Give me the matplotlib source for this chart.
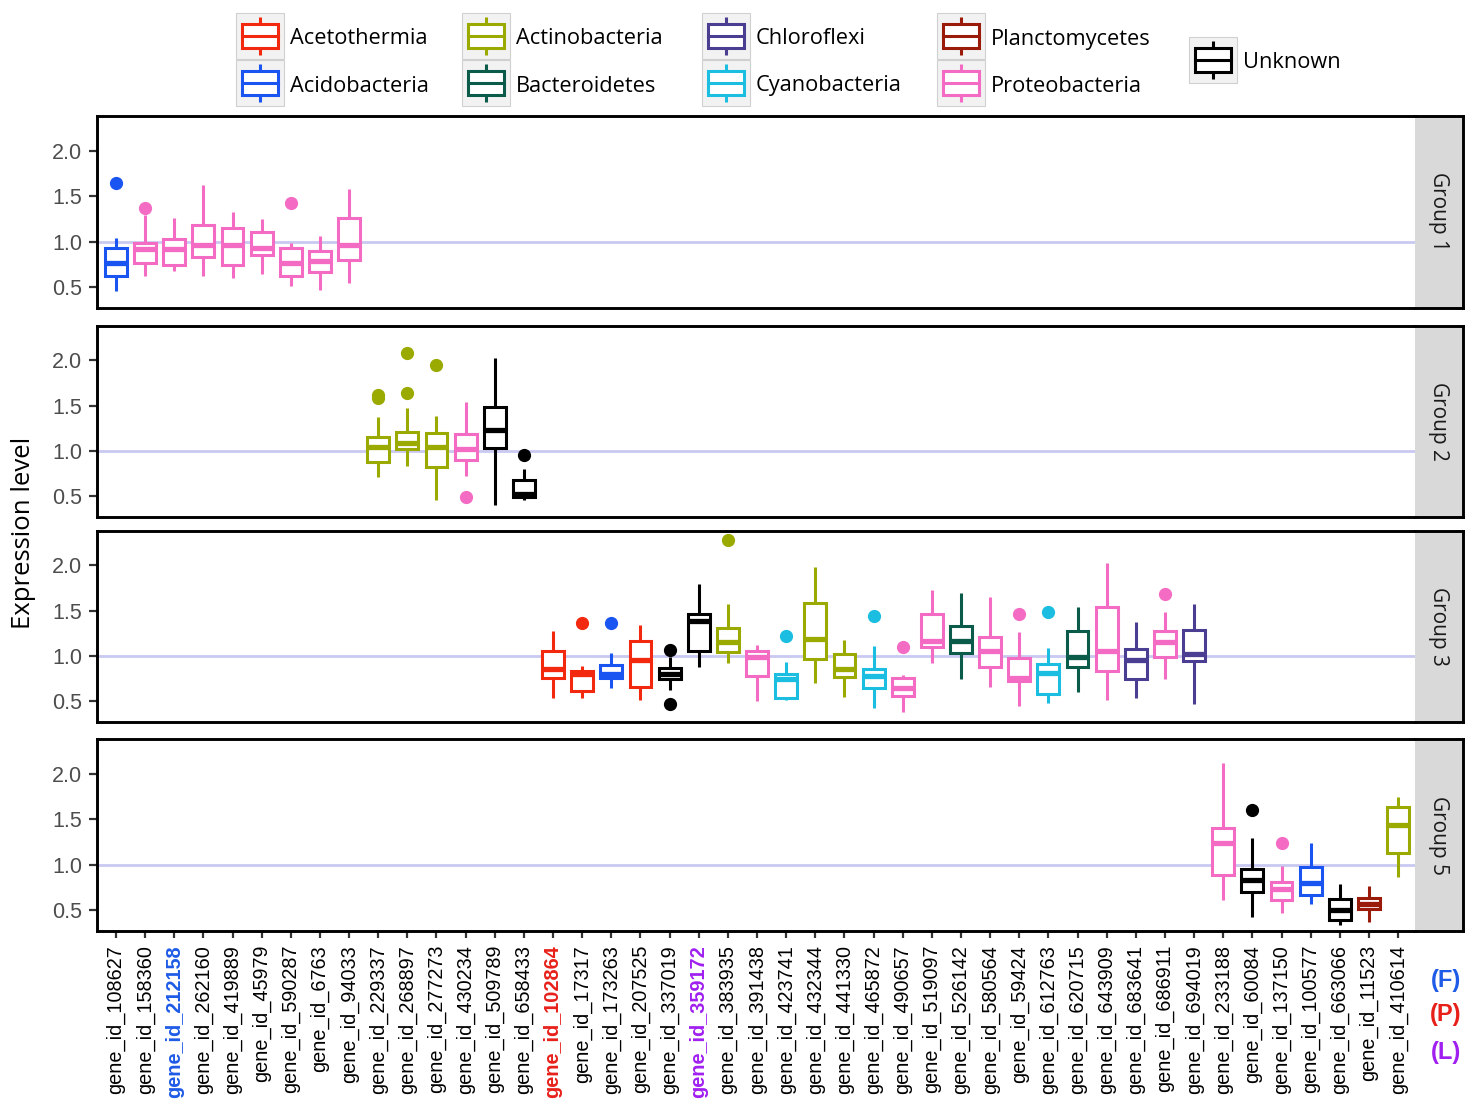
import matplotlib
matplotlib.use("Agg")
import matplotlib.pyplot as plt
from matplotlib.patches import Rectangle

# ---------------------------------------------------------------- data
genes = [
    "gene_id_108627", "gene_id_158360", "gene_id_212158", "gene_id_262160",
    "gene_id_419889", "gene_id_45979", "gene_id_590287", "gene_id_6763",
    "gene_id_94033", "gene_id_229337", "gene_id_268897", "gene_id_277273",
    "gene_id_430234", "gene_id_509789", "gene_id_658433", "gene_id_102864",
    "gene_id_17317", "gene_id_173263", "gene_id_207525", "gene_id_337019",
    "gene_id_359172", "gene_id_383935", "gene_id_391438", "gene_id_423741",
    "gene_id_432344", "gene_id_441330", "gene_id_465872", "gene_id_490657",
    "gene_id_519097", "gene_id_526142", "gene_id_580564", "gene_id_59424",
    "gene_id_612763", "gene_id_620715", "gene_id_643909", "gene_id_683641",
    "gene_id_686911", "gene_id_694019", "gene_id_233188", "gene_id_60084",
    "gene_id_137150", "gene_id_100577", "gene_id_663066", "gene_id_11523",
    "gene_id_410614",
]

phylum = [
    "Acidobacteria", "Proteobacteria", "Proteobacteria", "Proteobacteria",
    "Proteobacteria", "Proteobacteria", "Proteobacteria", "Proteobacteria",
    "Proteobacteria", "Actinobacteria", "Actinobacteria", "Actinobacteria",
    "Proteobacteria", "Unknown", "Unknown", "Acetothermia",
    "Acetothermia", "Acidobacteria", "Acetothermia", "Unknown",
    "Unknown", "Actinobacteria", "Proteobacteria", "Cyanobacteria",
    "Actinobacteria", "Actinobacteria", "Cyanobacteria", "Proteobacteria",
    "Proteobacteria", "Bacteroidetes", "Proteobacteria", "Proteobacteria",
    "Cyanobacteria", "Bacteroidetes", "Proteobacteria", "Chloroflexi",
    "Proteobacteria", "Chloroflexi", "Proteobacteria", "Unknown",
    "Proteobacteria", "Acidobacteria", "Unknown", "Planctomycetes",
    "Actinobacteria",
]

group = [1] * 9 + [2] * 6 + [3] * 23 + [5] * 7

whislo = [0.46, 0.62, 0.68, 0.62, 0.60, 0.64, 0.51, 0.47, 0.55,
          0.71, 0.83, 0.46, 0.72, 0.40, 0.46,
          0.54, 0.54, 0.65, 0.51, 0.62, 0.88, 0.92, 0.50, 0.51, 0.70, 0.55,
          0.42, 0.38, 0.92, 0.75, 0.66, 0.45, 0.48, 0.60, 0.51, 0.54, 0.75, 0.47,
          0.61, 0.42, 0.47, 0.57, 0.34, 0.37, 0.86]
q1 = [0.62, 0.76, 0.74, 0.83, 0.74, 0.85, 0.62, 0.67, 0.80,
      0.88, 1.02, 0.82, 0.90, 1.03, 0.49,
      0.76, 0.61, 0.76, 0.66, 0.75, 1.05, 1.04, 0.78, 0.54, 0.97, 0.77,
      0.65, 0.56, 1.10, 1.03, 0.88, 0.72, 0.58, 0.88, 0.83, 0.74, 0.99, 0.94,
      0.89, 0.70, 0.61, 0.67, 0.39, 0.51, 1.13]
median = [0.76, 0.92, 0.92, 0.96, 0.96, 0.93, 0.76, 0.79, 0.96,
          1.04, 1.09, 1.04, 1.02, 1.23, 0.52,
          0.85, 0.80, 0.80, 0.96, 0.80, 1.39, 1.15, 0.99, 0.75, 1.19, 0.86,
          0.78, 0.65, 1.16, 1.16, 1.05, 0.76, 0.81, 0.99, 1.05, 0.96, 1.15, 1.02,
          1.24, 0.83, 0.73, 0.80, 0.50, 0.57, 1.44]
q3 = [0.93, 0.98, 1.03, 1.18, 1.15, 1.10, 0.93, 0.90, 1.26,
      1.15, 1.21, 1.20, 1.19, 1.49, 0.68,
      1.05, 0.83, 0.90, 1.17, 0.87, 1.46, 1.31, 1.05, 0.80, 1.59, 1.02,
      0.86, 0.76, 1.46, 1.33, 1.21, 0.98, 0.91, 1.27, 1.54, 1.08, 1.27, 1.29,
      1.40, 0.95, 0.81, 0.97, 0.62, 0.63, 1.63]
whishi = [1.04, 1.29, 1.26, 1.62, 1.32, 1.25, 0.98, 1.06, 1.58,
          1.37, 1.47, 1.39, 1.54, 2.03, 0.80,
          1.27, 0.89, 1.03, 1.34, 0.99, 1.80, 1.57, 1.12, 0.93, 1.98, 1.18,
          1.11, 0.79, 1.73, 1.69, 1.65, 1.26, 1.09, 1.54, 2.03, 1.37, 1.49, 1.57,
          2.12, 1.29, 0.98, 1.24, 0.79, 0.77, 1.74]
outliers = [[1.64], [1.37], [], [], [], [], [1.42], [], [],
            [1.62, 1.58], [1.64, 2.08], [1.95], [0.49], [], [0.95],
            [], [1.36], [1.36], [], [1.07, 0.47], [], [2.28], [], [1.22], [], [],
            [1.44], [1.10], [], [], [], [1.46], [1.49], [], [], [], [1.68], [],
            [], [1.60], [1.24], [], [], [], []]

phyla = ["Acetothermia", "Acidobacteria", "Actinobacteria", "Bacteroidetes",
         "Chloroflexi", "Cyanobacteria", "Planctomycetes", "Proteobacteria",
         "Unknown"]
phylum_colors = ["#F2290F", "#1A55F2", "#9BAA00", "#0B5B4B",
                 "#4A3E92", "#1BBEE0", "#9B1B0A", "#F46BC4", "#000000"]

groups = [1, 2, 3, 5]
group_labels = ["Group 1", "Group 2", "Group 3", "Group 5"]

# highlighted gene ids and their marker letters
highlight_genes = ["gene_id_212158", "gene_id_102864", "gene_id_359172"]
highlight_tags = ["(F)", "(P)", "(L)"]
highlight_colors = ["#1E5BE6", "#E8201A", "#A020F0"]

y_ticks = [0.5, 1.0, 1.5, 2.0]

# ---------------------------------------------------------------- layout
W, H = 1468, 1100
fig = plt.figure(figsize=(W / 100, H / 100), dpi=100)
fig.patch.set_facecolor("white")

color_of = dict(zip(phyla, phylum_colors))
tick_font = ["Liberation Sans", "DejaVu Sans"]
text_font = ["Open Sans", "DejaVu Sans"]


def px_axes(x0, y0, x1, y1, **kw):
    return fig.add_axes([x0 / W, 1 - y1 / H, (x1 - x0) / W, (y1 - y0) / H], **kw)


panel_rows = [(116, 308), (326, 517), (531, 722), (739, 931)]
plot_x0, plot_x1, strip_x1 = 97, 1415, 1463
frame_lw = 2.1

axes = []
for k, (g, glabel) in enumerate(zip(groups, group_labels)):
    y0, y1 = panel_rows[k]
    ax = px_axes(plot_x0, y0, plot_x1, y1)
    axes.append(ax)
    ax.set_xlim(-0.65, len(genes) - 1 + 0.58)
    ax.set_ylim(0.27, 2.38)
    ax.axhline(1.0, color="#C9C9F2", lw=2.0, zorder=0)

    for i in range(len(genes)):
        if group[i] != g:
            continue
        c = color_of[phylum[i]]
        stats = [dict(whislo=whislo[i], q1=q1[i], med=median[i], q3=q3[i],
                      whishi=whishi[i], fliers=outliers[i])]
        ax.bxp(stats, positions=[i], widths=0.75, showcaps=False,
               patch_artist=True, manage_ticks=False,
               boxprops=dict(facecolor="white", edgecolor=c, lw=2.2),
               whiskerprops=dict(color=c, lw=2.2, solid_capstyle="butt"),
               medianprops=dict(color=c, lw=3.8, solid_capstyle="butt"),
               flierprops=dict(marker="o", markerfacecolor=c,
                               markeredgecolor=c, markersize=8.5))

    ax.set_yticks(y_ticks)
    ax.set_yticklabels([f"{v:.1f}" for v in y_ticks])
    ax.tick_params(axis="y", length=5.5, width=1.6, color="#333333",
                   labelsize=15.5, labelcolor="#4D4D4D", pad=5)
    for lab in ax.get_yticklabels():
        lab.set_family(tick_font)
    ax.set_xticks(range(len(genes)))
    if k < len(groups) - 1:
        ax.tick_params(axis="x", length=0, labelbottom=False)
    else:
        ax.set_xticklabels(genes, rotation=90, ha="center", va="top")
        ax.tick_params(axis="x", length=5, width=1.6, color="#333333",
                       labelsize=14.3, pad=5)
        for lab in ax.get_xticklabels():
            lab.set_family(tick_font)
            if lab.get_text() in highlight_genes:
                j = highlight_genes.index(lab.get_text())
                lab.set_color(highlight_colors[j])
                lab.set_fontweight("bold")
    for side in ["left", "top", "bottom"]:
        ax.spines[side].set_color("black")
        ax.spines[side].set_linewidth(frame_lw)
    ax.spines["right"].set_visible(False)

    # facet strip
    sx = px_axes(plot_x1, y0, strip_x1, y1)
    sx.set_facecolor("#D9D9D9")
    sx.set_xticks([])
    sx.set_yticks([])
    for side in ["right", "top", "bottom"]:
        sx.spines[side].set_color("black")
        sx.spines[side].set_linewidth(frame_lw)
    sx.spines["left"].set_visible(False)
    sx.text(0.5, 0.5, glabel, rotation=-90, ha="center", va="center",
            fontsize=15, color="#1A1A1A", family=text_font,
            transform=sx.transAxes)

# y axis title
fig.text(24 / W, 1 - 533 / H, "Expression level", rotation=90,
         ha="center", va="center", fontsize=18.5, family=text_font,
         color="black")

# tags for highlighted gene ids
for tag, c, yy in zip(highlight_tags, highlight_colors, [980, 1015, 1052]):
    fig.text(1446 / W, 1 - yy / H, tag, ha="center", va="center",
             fontsize=17, fontweight="bold", color=c, family=tick_font)

# ---------------------------------------------------------------- legend
lg = px_axes(0, 0, W, 112)
lg.set_xlim(0, W)
lg.set_ylim(112, 0)
lg.axis("off")

legend_cols = [
    (236, [("Acetothermia", 13), ("Acidobacteria", 60)]),
    (462, [("Actinobacteria", 13), ("Bacteroidetes", 60)]),
    (702, [("Chloroflexi", 13), ("Cyanobacteria", 60)]),
    (937, [("Planctomycetes", 13), ("Proteobacteria", 60)]),
    (1189, [("Unknown", 37)]),
]
cell_w, cell_h = 48, 46
for x0, entries in legend_cols:
    for name, y0 in entries:
        c = color_of[name]
        lg.add_patch(Rectangle((x0, y0), cell_w, cell_h, facecolor="#F2F2F2",
                               edgecolor="#D0D0D0", lw=0.8))
        cx = x0 + cell_w / 2
        bx0, bx1 = x0 + 6, x0 + cell_w - 6
        by0, by1 = y0 + 11, y0 + cell_h - 11
        lg.plot([cx, cx], [y0 + 4, by0], color=c, lw=2.2, solid_capstyle="butt")
        lg.plot([cx, cx], [by1, y0 + cell_h - 4], color=c, lw=2.2,
                solid_capstyle="butt")
        lg.add_patch(Rectangle((bx0, by0), bx1 - bx0, by1 - by0,
                               facecolor="white", edgecolor=c, lw=2.2))
        lg.plot([bx0, bx1], [y0 + cell_h / 2] * 2, color=c, lw=2.2)
        lg.text(x0 + cell_w + 6, y0 + cell_h / 2 + 3, name, ha="left",
                va="center", fontsize=15.7, family=text_font, color="black")

fig.savefig("out.png", dpi=100, facecolor="white")
